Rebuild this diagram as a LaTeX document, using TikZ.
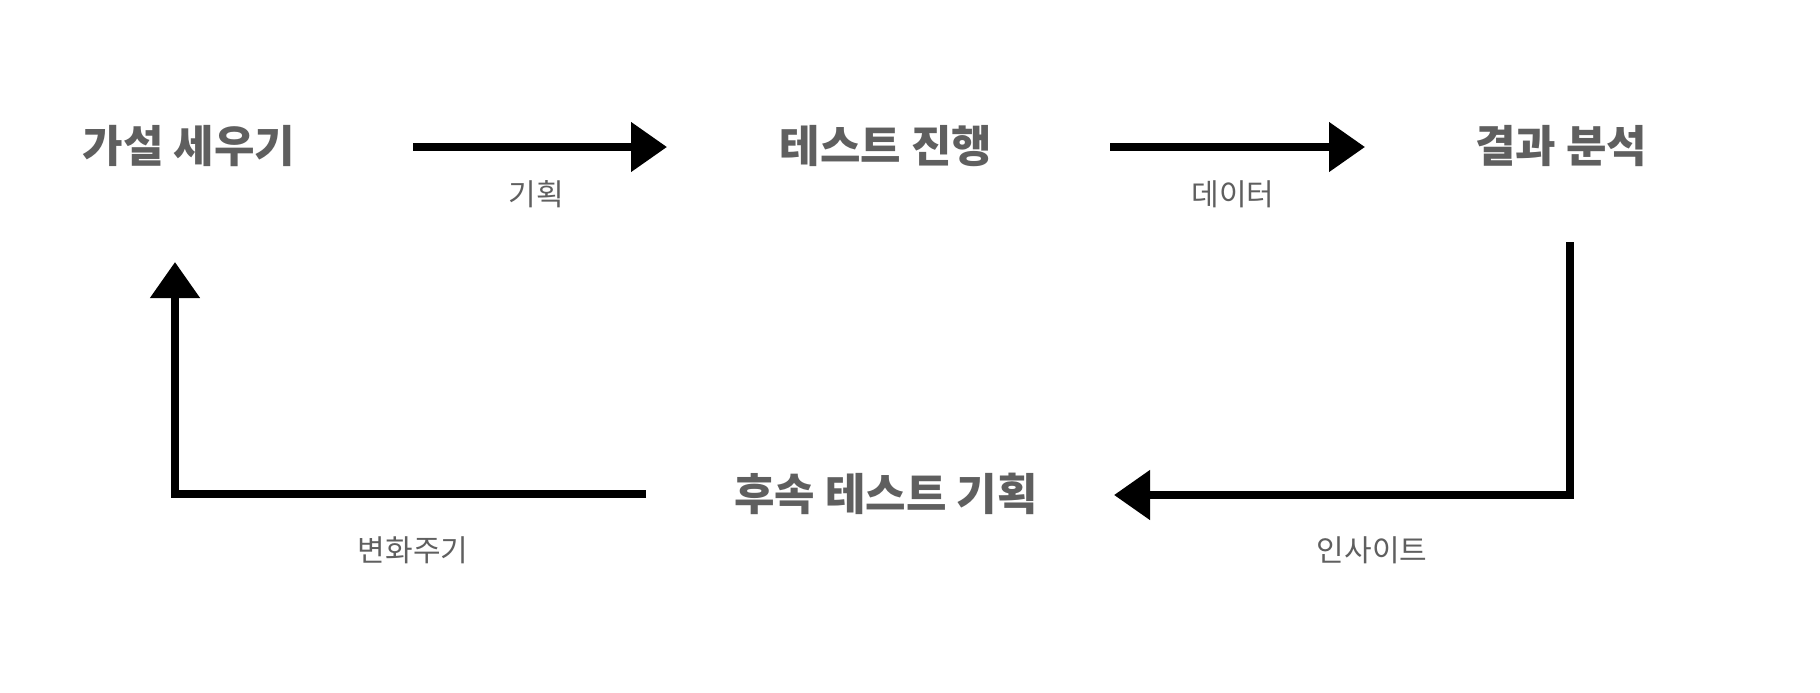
\documentclass[tikz,border=0pt]{standalone}
\usepackage{fontspec}
\newfontfamily\krfont{Noto Sans CJK KR}
\usetikzlibrary{arrows.meta,positioning}
\definecolor{txtgray}{HTML}{5F5F5F}
\tikzset{
	stage/.style={font=\krfont\bfseries\fontsize{22}{26}\selectfont, text=txtgray, inner sep=0pt},
	tag/.style={font=\krfont\fontsize{15}{18}\selectfont, text=txtgray, inner sep=0pt},
	flow/.style={line width=4pt, black, -{Triangle[length=18pt,width=24pt]}}
}

\begin{document}
\begin{tikzpicture}[x=0.5pt,y=-0.5pt]
	\useasboundingbox (0,0) rectangle (1820,692);
	% stages of the cycle
	\node[stage] (hyp) at (189,146) {가설 세우기};
	\node[stage] (run) at (886,146) {테스트 진행};
	\node[stage] (ana) at (1561,146) {결과 분석};
	\node[stage] (next) at (886,494) {후속 테스트 기획};
	% arrow ends
	\coordinate (p1) at (413,147);
	\coordinate (q1) at (667,147);
	\coordinate (p2) at (1110,147);
	\coordinate (q2) at (1365,147);
	\coordinate (p3) at (1570,242);
	\coordinate (c3) at (1570,495);
	\coordinate (q3) at (1114,495);
	\coordinate (p4) at (646,494);
	\coordinate (c4) at (175,494);
	\coordinate (q4) at (175,262);
	\draw[flow] (p1) -- (q1);
	\draw[flow] (p2) -- (q2);
	\draw[flow] (p3) -- (c3) -- (q3);
	\draw[flow] (p4) -- (c4) -- (q4);
	% labels
	\node[tag] (l1) at (536,194) {기획};
	\node[tag] (l2) at (1233,194) {데이터};
	\node[tag] (l3) at (1372,550) {인사이트};
	\node[tag] (l4) at (413,550) {변화주기};
\end{tikzpicture}
\end{document}
